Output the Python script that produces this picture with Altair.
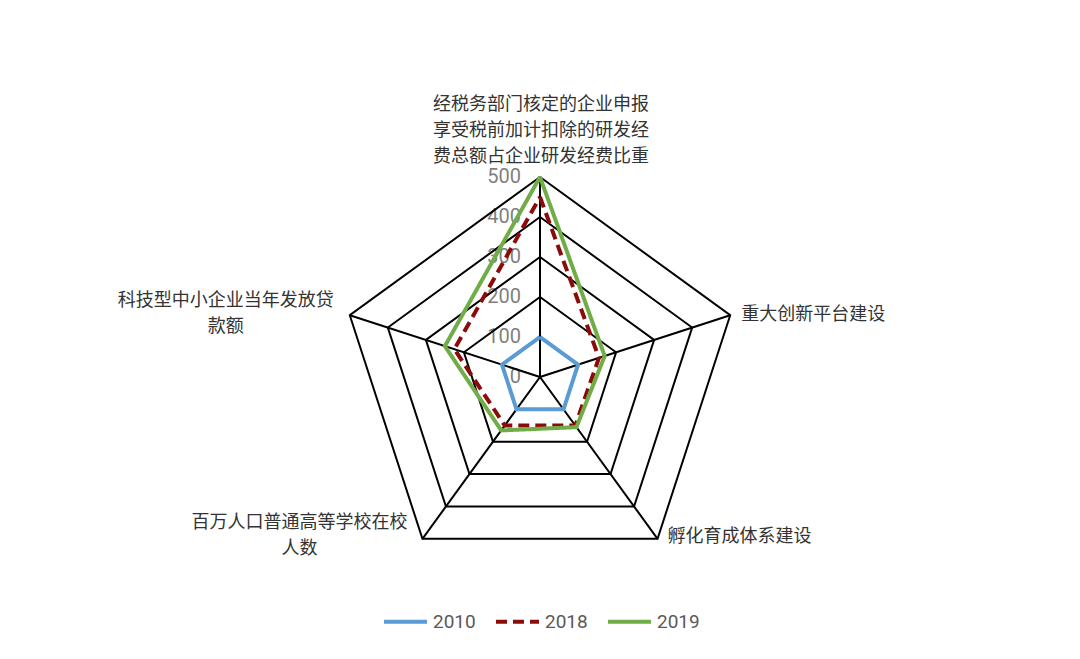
import altair as alt
import pandas as pd

categories = [
    "经税务部门核定的企业申报\n享受税前加计扣除的研发经\n费总额占企业研发经费比重",
    "重大创新平台建设",
    "孵化育成体系建设",
    "百万人口普通高等学校在校\n人数",
    "科技型中小企业当年发放贷\n款额",
]
years = ["2010", "2018", "2019"]
v2010 = [100, 100, 100, 100, 100]
v2018 = [450, 155, 150, 150, 225]
v2019 = [500, 170, 155, 165, 250]
ticks = [0, 100, 200, 300, 400, 500]
colors = ["#5B9BD5", "#8B0A0A", "#70AD47"]
dashes = [[1, 0], [11, 6], [1, 0]]

series_vals = {"2010": v2010, "2018": v2018, "2019": v2019}
n = len(categories)
rmax = ticks[-1]

series_df = pd.DataFrame(
    [{"year": y, "idx": i, "value": series_vals[y][i % n]} for y in years for i in range(n + 1)]
)
grid_df = pd.DataFrame(
    [{"level": lv, "idx": i} for lv in ticks[1:] for i in range(n + 1)]
)
spoke_df = pd.DataFrame([{"idx": i, "r": rmax} for i in range(n)])
tick_df = pd.DataFrame({"level": ticks})
label_df = pd.DataFrame([{"idx": i, "r": rmax, "label": categories[i]} for i in range(n)])

ang = "PI/2 - datum.idx*2*PI/" + str(n)
xs = alt.Scale(domain=[-1330, 1330], nice=False, zero=False)
ys = alt.Scale(domain=[-677.5, 922.5], nice=False, zero=False)
FONT = "Roboto, 'Noto Sans CJK SC', sans-serif"

tick_text = alt.Chart(tick_df).transform_calculate(z="0").mark_text(
    align="right", baseline="middle", dx=-19, fontSize=20, color="#7f7f7f", font=FONT
).encode(
    x=alt.X("z:Q", scale=xs, axis=None),
    y=alt.Y("level:Q", scale=ys, axis=None),
    text="level:Q",
)

grid = alt.Chart(grid_df).transform_calculate(
    a=ang
).transform_calculate(
    gx="datum.level*cos(datum.a)", gy="datum.level*sin(datum.a)"
).mark_line(color="black", strokeWidth=2).encode(
    x=alt.X("gx:Q", scale=xs, axis=None),
    y=alt.Y("gy:Q", scale=ys, axis=None),
    detail="level:N",
    order="idx:Q",
)

spokes = alt.Chart(spoke_df).transform_calculate(
    a=ang
).transform_calculate(
    z="0", ex="datum.r*cos(datum.a)", ey="datum.r*sin(datum.a)"
).mark_rule(color="black", strokeWidth=2).encode(
    x=alt.X("z:Q", scale=xs, axis=None),
    y=alt.Y("z:Q", scale=ys, axis=None),
    x2="ex:Q",
    y2="ey:Q",
)

leg = alt.Legend(
    title=None, orient="none", legendX=374, legendY=590, direction="horizontal",
    symbolType="stroke", symbolStrokeWidth=4, symbolSize=1849,
    labelFontSize=19, labelColor="#595959", labelFont=FONT, columnPadding=12,
    labelOffset=4,
)

lines = alt.Chart(series_df).transform_calculate(
    a=ang
).transform_calculate(
    px="datum.value*cos(datum.a)", py="datum.value*sin(datum.a)"
).mark_line(strokeWidth=4).encode(
    x=alt.X("px:Q", scale=xs, axis=None),
    y=alt.Y("py:Q", scale=ys, axis=None),
    color=alt.Color("year:N", scale=alt.Scale(domain=years, range=colors), legend=leg),
    strokeDash=alt.StrokeDash("year:N", scale=alt.Scale(domain=years, range=dashes), legend=leg),
    order="idx:Q",
)

label_base = alt.Chart(label_df).transform_calculate(
    a=ang
).transform_calculate(
    lx="datum.r*cos(datum.a)", ly="datum.r*sin(datum.a)"
)

label_style = [
    dict(align="center", baseline="middle", dx=1, dy=-72),
    dict(align="left", baseline="middle", dx=11, dy=0),
    dict(align="left", baseline="middle", dx=10, dy=-2),
    dict(align="center", baseline="middle", dx=-123, dy=-16),
    dict(align="center", baseline="middle", dx=-124, dy=-14),
]

label_layers = []
for i, st in enumerate(label_style):
    label_layers.append(
        label_base.transform_filter(alt.datum.idx == i).mark_text(
            fontSize=18, color="#333333", font=FONT, lineBreak="\n", lineHeight=26, **st
        ).encode(
            x=alt.X("lx:Q", scale=xs, axis=None),
            y=alt.Y("ly:Q", scale=ys, axis=None),
            text="label:N",
        )
    )

chart = alt.layer(tick_text, grid, spokes, lines, *label_layers).properties(
    width=1064, height=640, autosize=alt.AutoSizeParams(type="none"), padding=0
).configure_view(stroke=None)

chart.save("out.html", embed_options={"renderer": "svg", "actions": False})
